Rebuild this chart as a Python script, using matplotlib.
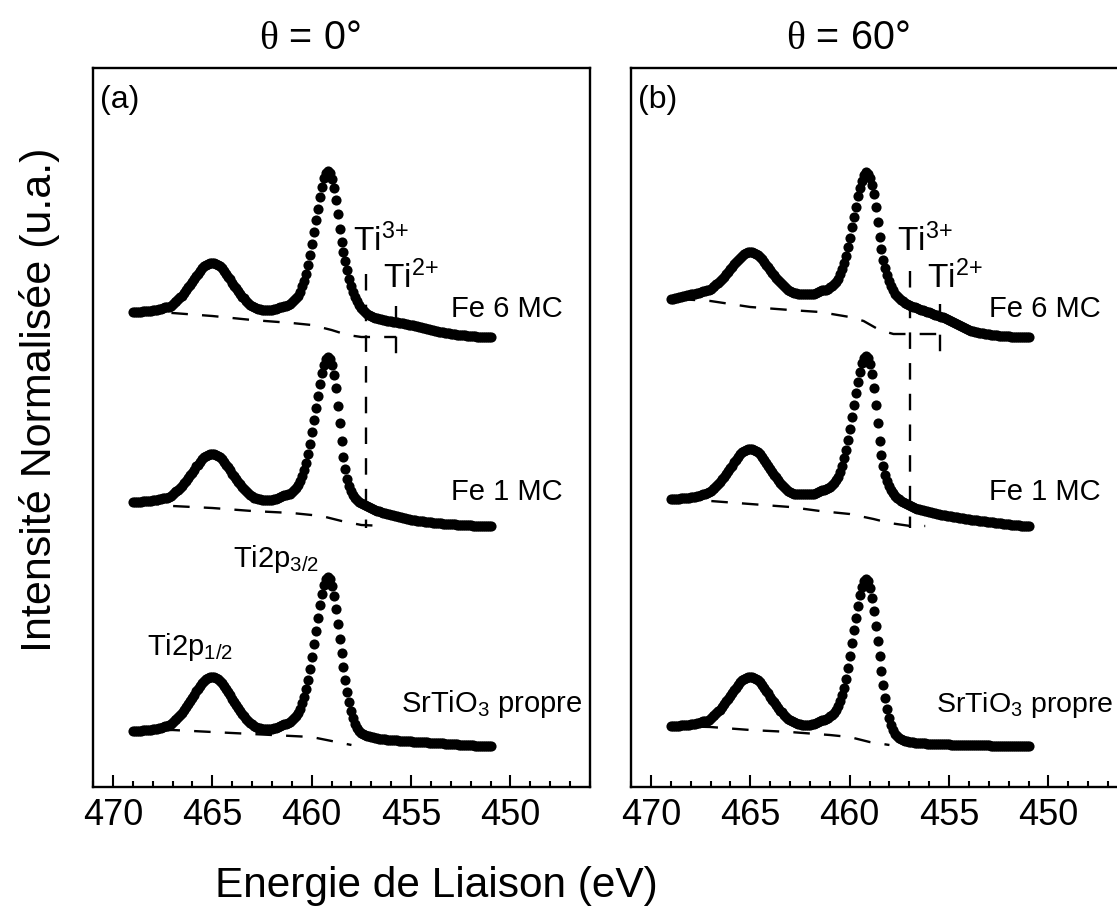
import numpy as np
import matplotlib.pyplot as plt
from matplotlib.ticker import MultipleLocator

plt.rcParams['font.family'] = ['Liberation Sans', 'DejaVu Sans']
plt.rcParams['mathtext.fontset'] = 'custom'
plt.rcParams['mathtext.rm'] = 'Liberation Sans'
plt.rcParams['mathtext.it'] = 'Liberation Serif'
plt.rcParams['mathtext.default'] = 'regular'

# Binding energy grid (eV), 0.1 eV step
energy = np.linspace(469.0, 451.0, 181)

# theta = 0 deg spectra (stacked, normalised intensity)
sto_0 = [
    0.56, 0.56, 0.56, 0.56, 0.56, 0.57, 0.57, 0.57, 0.57, 0.57,
    0.58, 0.58, 0.58, 0.59, 0.59, 0.60, 0.61, 0.61, 0.62, 0.63,
    0.65, 0.67, 0.68, 0.70, 0.72, 0.74, 0.77, 0.80, 0.83, 0.86,
    0.89, 0.92, 0.96, 0.98, 1.01, 1.04, 1.06, 1.08, 1.09, 1.10,
    1.10, 1.10, 1.09, 1.08, 1.06, 1.04, 1.01, 0.98, 0.95, 0.92,
    0.88, 0.85, 0.82, 0.79, 0.76, 0.73, 0.71, 0.68, 0.66, 0.64,
    0.63, 0.61, 0.60, 0.59, 0.59, 0.58, 0.58, 0.58, 0.58, 0.58,
    0.58, 0.59, 0.59, 0.60, 0.61, 0.62, 0.63, 0.63, 0.64, 0.65,
    0.67, 0.69, 0.71, 0.74, 0.78, 0.84, 0.90, 0.98, 1.07, 1.18,
    1.30, 1.43, 1.56, 1.69, 1.82, 1.93, 2.02, 2.08, 2.10, 2.08,
    2.01, 1.91, 1.78, 1.63, 1.48, 1.34, 1.20, 1.07, 0.95, 0.85,
    0.76, 0.69, 0.63, 0.59, 0.56, 0.54, 0.53, 0.52, 0.51, 0.51,
    0.50, 0.50, 0.49, 0.49, 0.48, 0.48, 0.48, 0.48, 0.47, 0.47,
    0.47, 0.47, 0.47, 0.47, 0.46, 0.46, 0.46, 0.46, 0.46, 0.46,
    0.46, 0.45, 0.45, 0.45, 0.45, 0.45, 0.45, 0.45, 0.45, 0.44,
    0.44, 0.44, 0.44, 0.44, 0.44, 0.44, 0.44, 0.43, 0.43, 0.43,
    0.43, 0.43, 0.43, 0.43, 0.42, 0.42, 0.42, 0.42, 0.42, 0.42,
    0.42, 0.42, 0.41, 0.41, 0.41, 0.41, 0.41, 0.41, 0.41, 0.41,
    0.41]
fe1_0 = [
    2.85, 2.85, 2.85, 2.85, 2.85, 2.86, 2.86, 2.86, 2.86, 2.86,
    2.87, 2.87, 2.87, 2.88, 2.88, 2.89, 2.89, 2.89, 2.90, 2.91,
    2.93, 2.95, 2.96, 2.97, 2.99, 3.01, 3.04, 3.06, 3.09, 3.12,
    3.14, 3.17, 3.21, 3.22, 3.25, 3.28, 3.30, 3.31, 3.32, 3.33,
    3.33, 3.33, 3.32, 3.31, 3.30, 3.28, 3.25, 3.22, 3.20, 3.17,
    3.13, 3.11, 3.08, 3.05, 3.03, 3.00, 2.98, 2.96, 2.94, 2.92,
    2.91, 2.89, 2.89, 2.88, 2.88, 2.87, 2.87, 2.87, 2.87, 2.87,
    2.87, 2.88, 2.88, 2.89, 2.90, 2.91, 2.92, 2.92, 2.93, 2.93,
    2.95, 2.97, 2.99, 3.02, 3.06, 3.11, 3.17, 3.24, 3.33, 3.43,
    3.55, 3.67, 3.79, 3.91, 4.03, 4.14, 4.22, 4.28, 4.30, 4.28,
    4.22, 4.12, 3.99, 3.81, 3.64, 3.46, 3.30, 3.18, 3.08, 3.01,
    2.96, 2.92, 2.89, 2.87, 2.85, 2.84, 2.83, 2.82, 2.81, 2.80,
    2.79, 2.78, 2.77, 2.76, 2.76, 2.75, 2.74, 2.74, 2.73, 2.73,
    2.72, 2.72, 2.71, 2.71, 2.70, 2.70, 2.69, 2.69, 2.68, 2.68,
    2.67, 2.67, 2.67, 2.66, 2.66, 2.66, 2.66, 2.65, 2.65, 2.65,
    2.65, 2.64, 2.64, 2.64, 2.64, 2.64, 2.63, 2.63, 2.63, 2.63,
    2.63, 2.63, 2.63, 2.62, 2.62, 2.62, 2.62, 2.62, 2.62, 2.62,
    2.62, 2.61, 2.61, 2.61, 2.61, 2.61, 2.61, 2.61, 2.61, 2.61,
    2.61]
fe6_0 = [
    4.75, 4.75, 4.75, 4.75, 4.75, 4.76, 4.76, 4.76, 4.76, 4.76,
    4.77, 4.77, 4.77, 4.78, 4.78, 4.79, 4.80, 4.80, 4.80, 4.81,
    4.83, 4.85, 4.86, 4.88, 4.90, 4.91, 4.94, 4.97, 5.00, 5.02,
    5.05, 5.08, 5.11, 5.13, 5.16, 5.19, 5.21, 5.22, 5.23, 5.24,
    5.24, 5.24, 5.23, 5.22, 5.21, 5.19, 5.16, 5.13, 5.10, 5.08,
    5.04, 5.01, 4.99, 4.96, 4.93, 4.90, 4.89, 4.86, 4.84, 4.82,
    4.81, 4.80, 4.79, 4.78, 4.78, 4.77, 4.77, 4.77, 4.77, 4.77,
    4.77, 4.78, 4.78, 4.79, 4.80, 4.80, 4.81, 4.81, 4.82, 4.83,
    4.85, 4.87, 4.89, 4.91, 4.95, 5.01, 5.06, 5.13, 5.22, 5.32,
    5.43, 5.55, 5.67, 5.78, 5.90, 6.00, 6.09, 6.14, 6.16, 6.14,
    6.08, 5.99, 5.87, 5.73, 5.58, 5.45, 5.35, 5.26, 5.17, 5.08,
    5.01, 4.95, 4.90, 4.86, 4.82, 4.79, 4.77, 4.75, 4.73, 4.72,
    4.71, 4.70, 4.69, 4.69, 4.68, 4.68, 4.67, 4.67, 4.66, 4.66,
    4.66, 4.65, 4.65, 4.65, 4.64, 4.64, 4.64, 4.63, 4.63, 4.62,
    4.62, 4.62, 4.61, 4.61, 4.60, 4.60, 4.59, 4.59, 4.58, 4.58,
    4.57, 4.57, 4.56, 4.56, 4.55, 4.55, 4.55, 4.54, 4.54, 4.54,
    4.53, 4.53, 4.53, 4.52, 4.52, 4.52, 4.52, 4.52, 4.51, 4.51,
    4.51, 4.51, 4.51, 4.50, 4.50, 4.50, 4.50, 4.50, 4.50, 4.50,
    4.50]

# theta = 60 deg spectra
sto_60 = [
    0.61, 0.61, 0.61, 0.61, 0.61, 0.62, 0.62, 0.62, 0.62, 0.62,
    0.63, 0.63, 0.63, 0.64, 0.64, 0.65, 0.66, 0.66, 0.66, 0.67,
    0.69, 0.71, 0.72, 0.74, 0.76, 0.77, 0.80, 0.83, 0.86, 0.88,
    0.91, 0.94, 0.97, 0.99, 1.02, 1.05, 1.07, 1.08, 1.09, 1.10,
    1.10, 1.10, 1.09, 1.08, 1.07, 1.05, 1.02, 0.99, 0.96, 0.94,
    0.90, 0.87, 0.85, 0.82, 0.79, 0.76, 0.75, 0.72, 0.70, 0.68,
    0.67, 0.66, 0.65, 0.64, 0.63, 0.63, 0.62, 0.62, 0.62, 0.62,
    0.62, 0.63, 0.63, 0.64, 0.65, 0.66, 0.67, 0.67, 0.68, 0.69,
    0.71, 0.72, 0.74, 0.77, 0.81, 0.86, 0.92, 0.99, 1.08, 1.19,
    1.31, 1.44, 1.57, 1.69, 1.81, 1.92, 2.00, 2.06, 2.08, 2.06,
    1.99, 1.89, 1.76, 1.61, 1.46, 1.31, 1.16, 1.02, 0.89, 0.78,
    0.69, 0.62, 0.57, 0.53, 0.51, 0.49, 0.48, 0.47, 0.46, 0.46,
    0.45, 0.45, 0.45, 0.44, 0.44, 0.44, 0.44, 0.44, 0.44, 0.43,
    0.43, 0.43, 0.43, 0.43, 0.43, 0.43, 0.43, 0.43, 0.43, 0.43,
    0.43, 0.42, 0.42, 0.42, 0.42, 0.42, 0.42, 0.42, 0.42, 0.42,
    0.42, 0.42, 0.42, 0.42, 0.42, 0.42, 0.42, 0.42, 0.42, 0.42,
    0.42, 0.41, 0.41, 0.41, 0.41, 0.41, 0.41, 0.41, 0.41, 0.41,
    0.41, 0.41, 0.41, 0.41, 0.41, 0.41, 0.41, 0.41, 0.41, 0.41,
    0.41]
fe1_60 = [
    2.88, 2.88, 2.88, 2.88, 2.88, 2.89, 2.89, 2.89, 2.89, 2.89,
    2.90, 2.90, 2.90, 2.91, 2.91, 2.92, 2.93, 2.93, 2.94, 2.95,
    2.96, 2.98, 2.99, 3.01, 3.03, 3.05, 3.08, 3.10, 3.13, 3.16,
    3.19, 3.21, 3.25, 3.27, 3.30, 3.33, 3.35, 3.36, 3.37, 3.38,
    3.38, 3.38, 3.37, 3.36, 3.35, 3.33, 3.30, 3.27, 3.24, 3.21,
    3.18, 3.15, 3.12, 3.10, 3.07, 3.04, 3.02, 3.00, 2.98, 2.96,
    2.95, 2.94, 2.93, 2.93, 2.93, 2.93, 2.93, 2.93, 2.93, 2.93,
    2.93, 2.93, 2.93, 2.94, 2.95, 2.96, 2.97, 2.97, 2.98, 2.99,
    3.00, 3.02, 3.04, 3.07, 3.10, 3.15, 3.21, 3.29, 3.37, 3.47,
    3.58, 3.70, 3.82, 3.94, 4.05, 4.15, 4.24, 4.29, 4.31, 4.29,
    4.23, 4.13, 3.99, 3.82, 3.64, 3.46, 3.32, 3.21, 3.12, 3.06,
    3.01, 2.97, 2.94, 2.91, 2.89, 2.88, 2.86, 2.85, 2.84, 2.83,
    2.82, 2.81, 2.80, 2.79, 2.78, 2.78, 2.77, 2.77, 2.76, 2.76,
    2.75, 2.75, 2.74, 2.74, 2.73, 2.73, 2.72, 2.72, 2.72, 2.71,
    2.71, 2.71, 2.70, 2.70, 2.70, 2.69, 2.69, 2.69, 2.68, 2.68,
    2.68, 2.67, 2.67, 2.67, 2.67, 2.66, 2.66, 2.66, 2.66, 2.65,
    2.65, 2.65, 2.65, 2.64, 2.64, 2.64, 2.64, 2.63, 2.63, 2.63,
    2.63, 2.62, 2.62, 2.62, 2.62, 2.62, 2.61, 2.61, 2.61, 2.61,
    2.61]
fe6_60 = [
    4.88, 4.88, 4.89, 4.89, 4.90, 4.90, 4.91, 4.91, 4.92, 4.92,
    4.93, 4.93, 4.93, 4.94, 4.94, 4.95, 4.96, 4.96, 4.97, 4.97,
    4.98, 5.00, 5.01, 5.03, 5.04, 5.06, 5.08, 5.10, 5.13, 5.15,
    5.18, 5.20, 5.23, 5.25, 5.27, 5.29, 5.31, 5.33, 5.34, 5.35,
    5.35, 5.35, 5.34, 5.33, 5.32, 5.30, 5.28, 5.25, 5.22, 5.20,
    5.17, 5.14, 5.12, 5.09, 5.07, 5.05, 5.03, 5.01, 4.99, 4.97,
    4.96, 4.95, 4.94, 4.94, 4.93, 4.93, 4.93, 4.93, 4.93, 4.93,
    4.93, 4.93, 4.93, 4.94, 4.95, 4.96, 4.97, 4.97, 4.97, 4.98,
    5.00, 5.01, 5.03, 5.05, 5.08, 5.13, 5.18, 5.24, 5.31, 5.40,
    5.49, 5.60, 5.70, 5.80, 5.91, 5.99, 6.06, 6.12, 6.15, 6.13,
    6.09, 6.02, 5.93, 5.80, 5.65, 5.50, 5.38, 5.27, 5.19, 5.12,
    5.06, 5.01, 4.97, 4.93, 4.91, 4.89, 4.87, 4.86, 4.84, 4.83,
    4.82, 4.81, 4.80, 4.80, 4.79, 4.78, 4.77, 4.77, 4.76, 4.75,
    4.75, 4.74, 4.73, 4.72, 4.72, 4.71, 4.70, 4.70, 4.69, 4.68,
    4.67, 4.66, 4.65, 4.64, 4.63, 4.62, 4.61, 4.60, 4.59, 4.58,
    4.57, 4.56, 4.56, 4.55, 4.55, 4.54, 4.54, 4.54, 4.53, 4.53,
    4.53, 4.52, 4.52, 4.52, 4.52, 4.51, 4.51, 4.51, 4.51, 4.51,
    4.51, 4.50, 4.50, 4.50, 4.50, 4.50, 4.50, 4.50, 4.50, 4.50,
    4.50]

# Shirley-type backgrounds (dashed)
bg_sto_0_e = [469.0, 467.0, 465.0, 463.0, 461.0, 460.0, 459.0, 458.0]
bg_sto_0 = [0.56, 0.57, 0.55, 0.53, 0.51, 0.50, 0.46, 0.42]
bg_fe1_0_e = [468.5, 467.0, 465.0, 463.0, 461.0, 459.5, 458.5, 457.5, 456.3]
bg_fe1_0 = [2.85, 2.81, 2.79, 2.76, 2.74, 2.71, 2.66, 2.62, 2.61]
bg_fe6_0_e = [468.6, 467.0, 465.0, 463.0, 461.0, 460.0, 459.0, 458.2, 457.5, 455.75]
bg_fe6_0 = [4.75, 4.74, 4.71, 4.67, 4.64, 4.62, 4.57, 4.52, 4.50, 4.50]

bg_sto_60_e = [469.0, 467.0, 465.0, 463.0, 461.0, 460.0, 459.0, 458.0]
bg_sto_60 = [0.61, 0.60, 0.57, 0.55, 0.52, 0.50, 0.45, 0.42]
bg_fe1_60_e = [468.5, 467.0, 465.0, 463.0, 461.5, 460.0, 458.8, 458.0, 456.95, 456.2]
bg_fe1_60 = [2.88, 2.86, 2.83, 2.80, 2.76, 2.73, 2.68, 2.64, 2.61, 2.61]
bg_fe6_60_e = [468.6, 467.0, 465.0, 463.0, 461.5, 460.0, 459.3, 458.5, 457.8, 455.45]
bg_fe6_60 = [4.88, 4.86, 4.80, 4.77, 4.75, 4.70, 4.66, 4.57, 4.53, 4.53]

# Ti3+ / Ti2+ marker energies for each panel
ti3_energy = [457.25, 456.95]
ti2_energy = [455.75, 455.45]

W, H = 1117, 920
fig = plt.figure(figsize=(W / 100, H / 100), dpi=100)
ax0 = fig.add_axes([93 / W, 132 / H, 497 / W, 719 / H])
ax1 = fig.add_axes([631 / W, 132 / H, 497 / W, 719 / H])

dash = (0, (7, 6))
lab_fs = 21

panels = [
    (ax0, [sto_0, fe1_0, fe6_0],
     [(bg_sto_0_e, bg_sto_0), (bg_fe1_0_e, bg_fe1_0), (bg_fe6_0_e, bg_fe6_0)],
     0, '(a)'),
    (ax1, [sto_60, fe1_60, fe6_60],
     [(bg_sto_60_e, bg_sto_60), (bg_fe1_60_e, bg_fe1_60), (bg_fe6_60_e, bg_fe6_60)],
     1, '(b)'),
]

for ax, curves, bgs, k, tag in panels:
    for be, bv in bgs:
        ax.plot(be, bv, color='black', lw=1.7, ls=dash)
    for c in curves:
        ax.plot(energy, c, 'o', color='black', ms=7.3, mec='black', mew=0)

    # Ti3+ / Ti2+ guide lines
    t3, t2 = ti3_energy[k], ti2_energy[k]
    top3 = 5.13 if k == 0 else 5.16
    top2 = 4.81 if k == 0 else 4.83
    ax.plot([t3, t3], [top3, 2.59], color='black', lw=1.7, ls=dash)
    ax.plot([t2, t2], [top2, 4.30], color='black', lw=1.7, ls=dash)

    ax.text(t3 + 0.65, 5.37, r'Ti$^{3{+}}$', fontsize=24, ha='left', va='baseline')
    ax.text(t2 + 0.65, 5.0, r'Ti$^{2{+}}$', fontsize=24, ha='left', va='baseline')
    ax.text(453.0, 4.71, 'Fe 6 MC', fontsize=lab_fs, ha='left', va='baseline')
    ax.text(453.0, 2.88, 'Fe 1 MC', fontsize=lab_fs, ha='left', va='baseline')
    sto_fs = lab_fs if k == 0 else 20.5
    sto_x = 455.5 if k == 0 else 455.65
    ax.text(sto_x, 0.76, r'SrTiO$_3$ propre', fontsize=sto_fs, ha='left', va='baseline')
    ax.text(0.014, 0.978, tag, transform=ax.transAxes, fontsize=23, ha='left', va='top')

    ax.set_xlim(471, 446)
    ax.set_ylim(0, 7.19)
    ax.xaxis.set_major_locator(MultipleLocator(5))
    ax.xaxis.set_minor_locator(MultipleLocator(1))
    ax.set_yticks([])
    ax.tick_params(axis='x', which='both', direction='in', top=False, width=1.5,
                   labelsize=26, pad=7)
    ax.tick_params(axis='x', which='major', length=9)
    ax.tick_params(axis='x', which='minor', length=4.5)
    for s in ax.spines.values():
        s.set_linewidth(1.7)

ax0.text(463.95, 2.21, r'Ti2p$_{3/2}$', fontsize=lab_fs, ha='left', va='baseline')
ax0.text(468.3, 1.33, r'Ti2p$_{1/2}$', fontsize=lab_fs, ha='left', va='baseline')

fig.text(310 / W, 1 - 38 / H, r'$\mathit{\theta}$ = 0°', fontsize=28.5, ha='center', va='center')
fig.text(848 / W, 1 - 38 / H, r'$\mathit{\theta}$ = 60°', fontsize=28.5, ha='center', va='center')
fig.text(40 / W, 1 - 400 / H, 'Intensité Normalisée (u.a.)', rotation=90,
         fontsize=31, ha='center', va='center')
fig.text(436 / W, 1 - 886 / H, 'Energie de Liaison (eV)', fontsize=30.5,
         ha='center', va='center')

fig.savefig('out.png', dpi=100)
